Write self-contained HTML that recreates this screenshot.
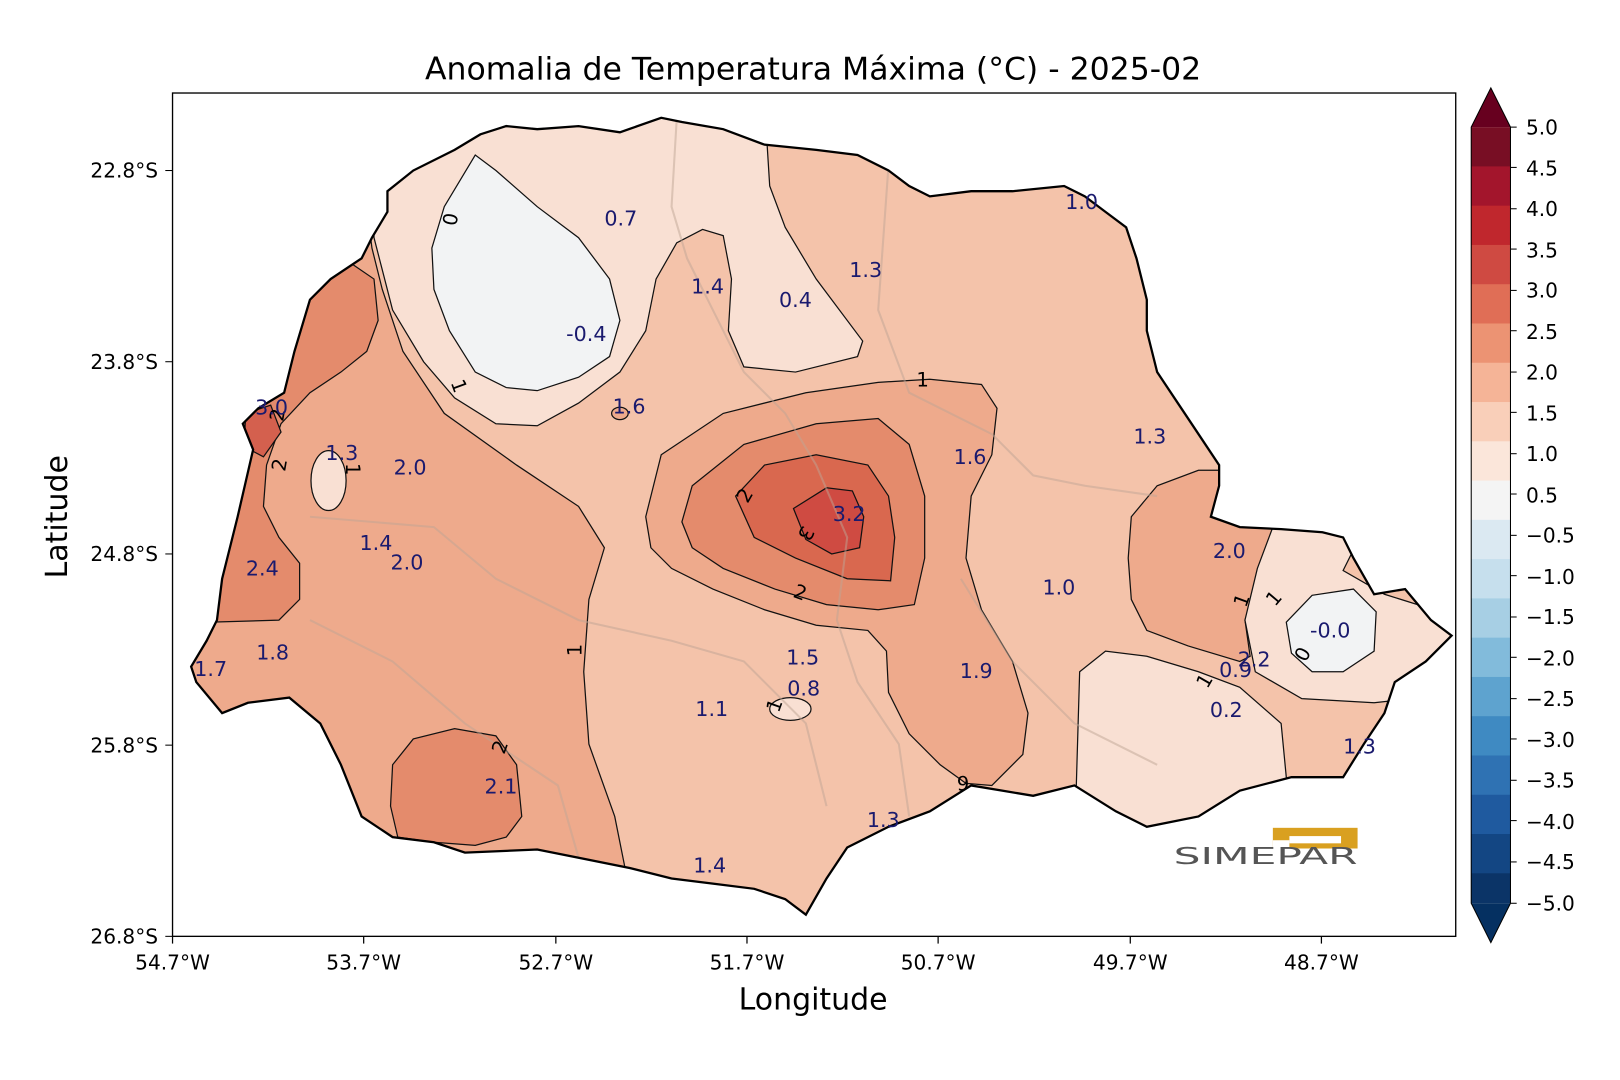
<!DOCTYPE html>
<html><head><meta charset="utf-8"><style>
html,body{margin:0;padding:0;background:#fff;}
svg{display:block;}
text{font-family:"DejaVu Sans","Liberation Sans",sans-serif;}
</style></head><body>
<svg width="1620" height="1080" viewBox="0 0 1568 1045" preserveAspectRatio="none" xmlns="http://www.w3.org/2000/svg">
<defs>
<clipPath id="pr"><path id="prp" d="M465,130 L490,122 L520,125 L560,122 L600,128 L640,114 L660,118 L700,125 L740,140 L790,145 L830,150 L860,165 L880,180 L900,190 L940,185 L980,185 L1030,180 L1050,190 L1070,205 L1090,220 L1100,250 L1110,290 L1110,320 L1120,360 L1140,390 L1160,420 L1180,450 L1180,470 L1172,500 L1200,510 L1240,512 L1280,515 L1300,520 L1310,540 L1330,575 L1360,570 L1385,600 L1405,615 L1380,640 L1350,660 L1340,690 L1320,720 L1300,752 L1250,752 L1200,765 L1160,790 L1110,800 L1080,785 L1040,760 L1000,770 L970,765 L940,760 L900,785 L860,800 L820,820 L800,850 L780,885 L760,870 L730,860 L690,855 L650,850 L610,840 L560,830 L520,822 L450,825 L420,815 L380,810 L350,790 L330,740 L310,700 L280,675 L240,680 L215,690 L190,660 L185,645 L200,620 L210,600 L215,560 L230,500 L245,435 L235,410 L250,395 L275,380 L285,340 L300,290 L320,270 L350,250 L360,230 L375,205 L375,185 L400,165 L440,145 Z"/></clipPath>
</defs>
<g clip-path="url(#pr)" stroke="#111" stroke-width="1.2">
<rect x="100" y="80" width="1350" height="850" fill="#f4c3aa" stroke="none"/>
<path d="M355,200 L360,240 L370,280 L390,340 L430,400 L500,450 L560,490 L585,530 L570,580 L565,650 L570,720 L595,790 L605,840 L605,900 L150,900 L150,200 Z" fill="#eeaa8c"/>
<path d="M360,100 L362,230 L380,300 L410,350 L440,385 L480,410 L520,412 L560,390 L600,360 L625,320 L635,270 L655,235 L680,222 L700,228 L708,270 L705,320 L720,355 L770,360 L830,345 L835,330 L790,270 L760,220 L745,180 L740,100 Z" fill="#f9e0d3"/>
<path d="M430,200 L460,150 L480,165 L520,200 L560,230 L590,270 L600,310 L590,345 L560,365 L520,378 L490,375 L460,360 L435,320 L420,280 L418,240 Z" fill="#f2f3f4"/>
<ellipse cx="318" cy="465" rx="17" ry="29" fill="#f9e0d3"/>
<path d="M300,280 L340,255 L362,270 L366,310 L355,340 L330,360 L300,380 L272,410 L258,450 L255,490 L270,520 L290,545 L290,580 L270,600 L205,602 L200,500 L200,280 Z" fill="#e48b6c"/>
<path d="M238,400 L262,392 L272,418 L255,442 L236,432 Z" fill="#d4604e"/>
<path d="M625,500 L640,440 L700,400 L780,380 L850,370 L900,367 L950,372 L965,395 L960,440 L940,480 L935,540 L950,590 L980,640 L995,690 L990,730 L960,760 L935,758 L910,740 L880,710 L860,670 L858,630 L840,610 L790,605 L740,590 L690,570 L650,550 L630,530 Z" fill="#eeaa8c"/>
<path d="M660,505 L670,470 L720,430 L790,410 L850,405 L880,430 L895,480 L895,540 L885,585 L850,590 L800,585 L750,570 L700,550 L670,530 Z" fill="#e48b6c"/>
<path d="M712,480 L740,450 L790,440 L840,450 L860,480 L866,520 L862,562 L820,560 L770,540 L730,520 Z" fill="#d9684f"/>
<path d="M768,492 L800,472 L825,475 L836,500 L832,530 L805,536 L780,522 Z" fill="#cf4b42"/>
<path d="M1095,500 L1120,470 L1160,455 L1190,455 L1190,490 L1232,510 L1220,560 L1205,600 L1210,635 L1200,640 L1150,625 L1110,610 L1095,580 L1092,540 Z" fill="#eeaa8c"/>
<path d="M1232,510 L1290,512 L1312,528 L1300,552 L1340,575 L1420,600 L1420,670 L1330,680 L1260,676 L1215,650 L1205,600 L1217,550 Z" fill="#f9e0d3"/>
<path d="M1245,602 L1270,576 L1310,570 L1332,592 L1330,630 L1300,650 L1270,650 L1250,632 Z" fill="#f2f3f4"/>
<path d="M1045,650 L1070,630 L1110,635 L1160,650 L1200,665 L1240,700 L1245,752 L1245,820 L1040,820 Z" fill="#f9e0d3"/>
<path d="M380,740 L400,715 L440,705 L480,712 L500,740 L505,790 L490,810 L460,818 L420,815 L385,810 L378,780 Z" fill="#e48b6c"/>
<ellipse cx="765" cy="686" rx="20" ry="11" fill="#f9e0d3"/>
<ellipse cx="600" cy="400" rx="8" ry="6" fill="#eeaa8c"/>
<g stroke="#bfa595" stroke-width="2" fill="none" opacity="0.5">
<path d="M655,115 L650,200 L665,250 L690,300 L720,360 L760,400 L790,450 L820,520 L810,600 L830,660 L870,720 L880,790"/>
<path d="M300,500 L420,510 L480,560 L560,600 L650,620 L720,640 L780,700 L800,780"/>
<path d="M860,160 L850,300 L880,380 L960,420 L1000,460 L1050,470 L1120,480"/>
<path d="M930,560 L980,640 L1040,700 L1120,740"/>
<path d="M300,600 L380,640 L450,700 L540,760 L560,830"/>
</g>
</g>
<use href="#prp" fill="none" stroke="#000" stroke-width="2.2"/>
<g font-size="19" fill="#000">
<text x="436" y="370" transform="rotate(70 436 370)">1</text>
<text x="430" y="205" transform="rotate(100 430 205)">0</text>
<text x="887" y="374">1</text>
<text x="715" y="487" transform="rotate(-60 720 480)">2</text>
<text x="770" y="512" transform="rotate(120 775 512)">3</text>
<text x="768" y="580" transform="rotate(20 775 575)">2</text>
<text x="556" y="628" transform="rotate(-90 563 628)">1</text>
<text x="745" y="688" transform="rotate(-70 751 683)">1</text>
<text x="266" y="405" transform="rotate(-80 272 402)">2</text>
<text x="266" y="455" transform="rotate(-80 272 450)">2</text>
<text x="328" y="455" transform="rotate(90 335 455)">1</text>
<text x="484" y="725" transform="rotate(-70 490 725)">2</text>
<text x="1202" y="583" transform="rotate(-70 1208 583)">1</text>
<text x="1232" y="583" transform="rotate(-50 1238 583)">1</text>
<text x="1258" y="640" transform="rotate(-60 1262 636)">0</text>
<text x="1162" y="664" transform="rotate(-60 1168 660)">1</text>
<text x="926" y="765">9</text>
</g>
<g font-size="20" fill="#1a1a6e">
<text x="585" y="218">0.7</text><text x="548" y="330">-0.4</text><text x="669" y="284">1.4</text>
<text x="754" y="297">0.4</text><text x="822" y="268">1.3</text><text x="1031" y="202">1.0</text>
<text x="247" y="401">3.0</text><text x="315" y="445">1.3</text><text x="381" y="459">2.0</text>
<text x="593" y="400">1.6</text><text x="923" y="449">1.6</text><text x="1097" y="429">1.3</text>
<text x="806" y="504">3.2</text><text x="348" y="532">1.4</text><text x="378" y="551">2.0</text>
<text x="238" y="557">2.4</text><text x="1174" y="540">2.0</text><text x="1009" y="575">1.0</text>
<text x="1268" y="617">-0.0</text><text x="248" y="638">1.8</text><text x="188" y="654">1.7</text>
<text x="761" y="643">1.5</text><text x="929" y="656">1.9</text><text x="1180" y="655">0.9</text>
<text x="1198" y="645">2.2</text><text x="762" y="673">0.8</text><text x="673" y="693">1.1</text>
<text x="1171" y="694">0.2</text><text x="1300" y="729">1.3</text><text x="469" y="768">2.1</text>
<text x="839" y="800">1.3</text><text x="671" y="844">1.4</text>
</g>
<rect x="1232" y="801" width="82" height="20" fill="#d9a020"/>
<rect x="1248" y="809" width="50" height="7" fill="#fff"/>
<rect x="1232" y="813" width="16" height="8" fill="#fff"/>
<text x="1136" y="836" font-size="22" fill="#555" font-weight="normal" textLength="178" lengthAdjust="spacingAndGlyphs">SIMEPAR</text>
<rect x="167" y="90" width="1242" height="816" fill="none" stroke="#000" stroke-width="1.3"/>
<g font-size="19.5" fill="#000" stroke="#000">
<line x1="160" y1="165" x2="167" y2="165"/><line x1="160" y1="350" x2="167" y2="350"/>
<line x1="160" y1="536" x2="167" y2="536"/><line x1="160" y1="721" x2="167" y2="721"/>
<line x1="160" y1="906" x2="167" y2="906"/>
<g stroke="none" text-anchor="end">
<text x="153" y="172">22.8°S</text><text x="153" y="357">23.8°S</text><text x="153" y="543">24.8°S</text>
<text x="153" y="728">25.8°S</text><text x="153" y="913">26.8°S</text></g>
<g stroke-width="1.2">
<line x1="167" y1="906" x2="167" y2="913"/><line x1="352" y1="906" x2="352" y2="913"/>
<line x1="538" y1="906" x2="538" y2="913"/><line x1="723" y1="906" x2="723" y2="913"/>
<line x1="908" y1="906" x2="908" y2="913"/><line x1="1094" y1="906" x2="1094" y2="913"/>
<line x1="1279" y1="906" x2="1279" y2="913"/></g>
<g stroke="none" text-anchor="middle">
<text x="167" y="938">54.7°W</text><text x="352" y="938">53.7°W</text><text x="538" y="938">52.7°W</text>
<text x="723" y="938">51.7°W</text><text x="908" y="938">50.7°W</text><text x="1094" y="938">49.7°W</text>
<text x="1279" y="938">48.7°W</text></g>
</g>
<text x="787" y="77" font-size="30.5" text-anchor="middle">Anomalia de Temperatura Máxima (°C) - 2025-02</text>
<text x="787" y="977" font-size="29" text-anchor="middle">Longitude</text>
<text x="65" y="500" font-size="29" text-anchor="middle" transform="rotate(-90 65 500)">Latitude</text>
<g stroke="none">
<path d="M1424,123 L1443,85 L1462,123 Z" fill="#67001f"/>
<rect x="1424" y="123.0" width="38" height="38.5" fill="#780e24"/>
<rect x="1424" y="161.0" width="38" height="38.5" fill="#a3152c"/>
<rect x="1424" y="199.0" width="38" height="38.5" fill="#c0272d"/>
<rect x="1424" y="237.0" width="38" height="38.5" fill="#cf4a42"/>
<rect x="1424" y="275.0" width="38" height="38.5" fill="#e06e56"/>
<rect x="1424" y="313.0" width="38" height="38.5" fill="#ec9373"/>
<rect x="1424" y="351.0" width="38" height="38.5" fill="#f5b497"/>
<rect x="1424" y="389.0" width="38" height="38.5" fill="#f9cfb9"/>
<rect x="1424" y="427.0" width="38" height="38.5" fill="#fbe6da"/>
<rect x="1424" y="465.0" width="38" height="38.5" fill="#f4f4f4"/>
<rect x="1424" y="503.0" width="38" height="38.5" fill="#dbe9f2"/>
<rect x="1424" y="541.0" width="38" height="38.5" fill="#c6dfed"/>
<rect x="1424" y="579.0" width="38" height="38.5" fill="#a7cfe4"/>
<rect x="1424" y="617.0" width="38" height="38.5" fill="#82bbdb"/>
<rect x="1424" y="655.0" width="38" height="38.5" fill="#5ea3cf"/>
<rect x="1424" y="693.0" width="38" height="38.5" fill="#3f8ac2"/>
<rect x="1424" y="731.0" width="38" height="38.5" fill="#2f72b3"/>
<rect x="1424" y="769.0" width="38" height="38.5" fill="#1f5a9f"/>
<rect x="1424" y="807.0" width="38" height="38.5" fill="#134683"/>
<rect x="1424" y="845.0" width="38" height="29" fill="#0b3467"/>
<path d="M1424,874 L1443,912 L1462,874 Z" fill="#053061"/>
</g>
<path d="M1424,123 L1443,85 L1462,123 L1462,874 L1443,912 L1424,874 Z" fill="none" stroke="#000" stroke-width="1"/>
<g font-size="19.5" fill="#000">
<text x="1477" y="130">5.0</text><text x="1477" y="170">4.5</text><text x="1477" y="209">4.0</text>
<text x="1477" y="249">3.5</text><text x="1477" y="288">3.0</text><text x="1477" y="328">2.5</text>
<text x="1477" y="367">2.0</text><text x="1477" y="407">1.5</text><text x="1477" y="446">1.0</text>
<text x="1477" y="486">0.5</text><text x="1477" y="525">−0.5</text><text x="1477" y="565">−1.0</text>
<text x="1477" y="604">−1.5</text><text x="1477" y="644">−2.0</text><text x="1477" y="683">−2.5</text>
<text x="1477" y="723">−3.0</text><text x="1477" y="762">−3.5</text><text x="1477" y="802">−4.0</text>
<text x="1477" y="841">−4.5</text><text x="1477" y="881">−5.0</text>
</g>
<g stroke="#000" stroke-width="1">
<line x1="1462" y1="123" x2="1468" y2="123"/><line x1="1462" y1="162" x2="1468" y2="162"/><line x1="1462" y1="202" x2="1468" y2="202"/><line x1="1462" y1="241" x2="1468" y2="241"/><line x1="1462" y1="281" x2="1468" y2="281"/><line x1="1462" y1="320" x2="1468" y2="320"/><line x1="1462" y1="360" x2="1468" y2="360"/><line x1="1462" y1="399" x2="1468" y2="399"/><line x1="1462" y1="439" x2="1468" y2="439"/><line x1="1462" y1="478" x2="1468" y2="478"/><line x1="1462" y1="518" x2="1468" y2="518"/><line x1="1462" y1="557" x2="1468" y2="557"/><line x1="1462" y1="597" x2="1468" y2="597"/><line x1="1462" y1="636" x2="1468" y2="636"/><line x1="1462" y1="676" x2="1468" y2="676"/><line x1="1462" y1="715" x2="1468" y2="715"/><line x1="1462" y1="755" x2="1468" y2="755"/><line x1="1462" y1="794" x2="1468" y2="794"/><line x1="1462" y1="834" x2="1468" y2="834"/><line x1="1462" y1="874" x2="1468" y2="874"/>
</g>
</svg>
</body></html>
